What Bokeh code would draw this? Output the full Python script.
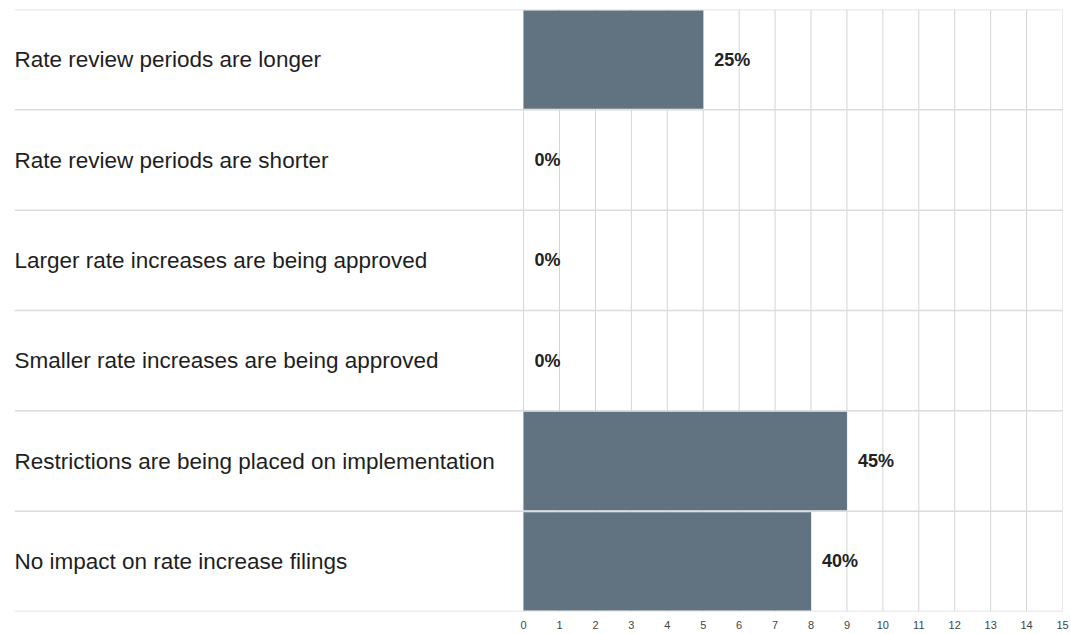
from bokeh.plotting import figure
from bokeh.models import ColumnDataSource, Range1d, FixedTicker
from bokeh.core.properties import value
from bokeh.embed import file_html
from bokeh.resources import INLINE

categories = [
    "Rate review periods are longer",
    "Rate review periods are shorter",
    "Larger rate increases are being approved",
    "Smaller rate increases are being approved",
    "Restrictions are being placed on implementation",
    "No impact on rate increase filings",
]
counts = [5, 0, 0, 0, 9, 8]
percent_labels = ["25%", "0%", "0%", "0%", "45%", "40%"]
x_ticks = list(range(0, 16))

n = len(categories)
ypos = [n - 0.5 - i for i in range(n)]
XMIN = -14.17
XMAX = 15

src = ColumnDataSource(dict(cat=categories, cnt=counts, pct=percent_labels, y=ypos,
                            xl=[XMIN] * n))

p = figure(width=1070, height=631, output_backend="svg", toolbar_location=None,
           x_range=Range1d(XMIN, XMAX), y_range=Range1d(0, n),
           min_border_left=14, min_border_right=8, min_border_top=9, min_border_bottom=0,
           y_axis_location=None)
p.outline_line_color = None
p.xgrid.visible = False
p.ygrid.visible = False

# vertical grid lines
p.segment(x0=x_ticks, x1=x_ticks, y0=[0] * len(x_ticks), y1=[n] * len(x_ticks),
          line_color="#d4d4d8", line_width=1)
# horizontal row separators
hy = list(range(0, n + 1))
p.segment(x0=[XMIN] * len(hy), x1=[XMAX] * len(hy), y0=hy, y1=hy,
          line_color="#dcdcdc", line_width=1.5)

p.hbar(y="y", left=0, right="cnt", height=0.98, source=src,
       fill_color="#617380", line_color=None)

p.text(x="cnt", y="y", text="pct", source=src, x_offset=11,
       text_font=value("Liberation Sans"), text_font_style="bold",
       text_font_size="18px", text_color="#222222", text_baseline="middle")

p.text(x="xl", y="y", text="cat", source=src, x_offset=0,
       text_font=value("Liberation Sans"), text_font_size="22.5px",
       text_color="#1e1e1e", text_baseline="middle")

p.xaxis.ticker = FixedTicker(ticks=x_ticks)
p.xaxis.axis_line_color = None
p.xaxis.major_tick_line_color = None
p.xaxis.minor_tick_line_color = None
p.xaxis.major_label_text_font = "Liberation Sans"
p.xaxis.major_label_text_font_size = "11px"
p.xaxis.major_label_text_color = "#444444"
p.xaxis.major_label_standoff = 3

open("out.html", "w").write(file_html(p, INLINE))
